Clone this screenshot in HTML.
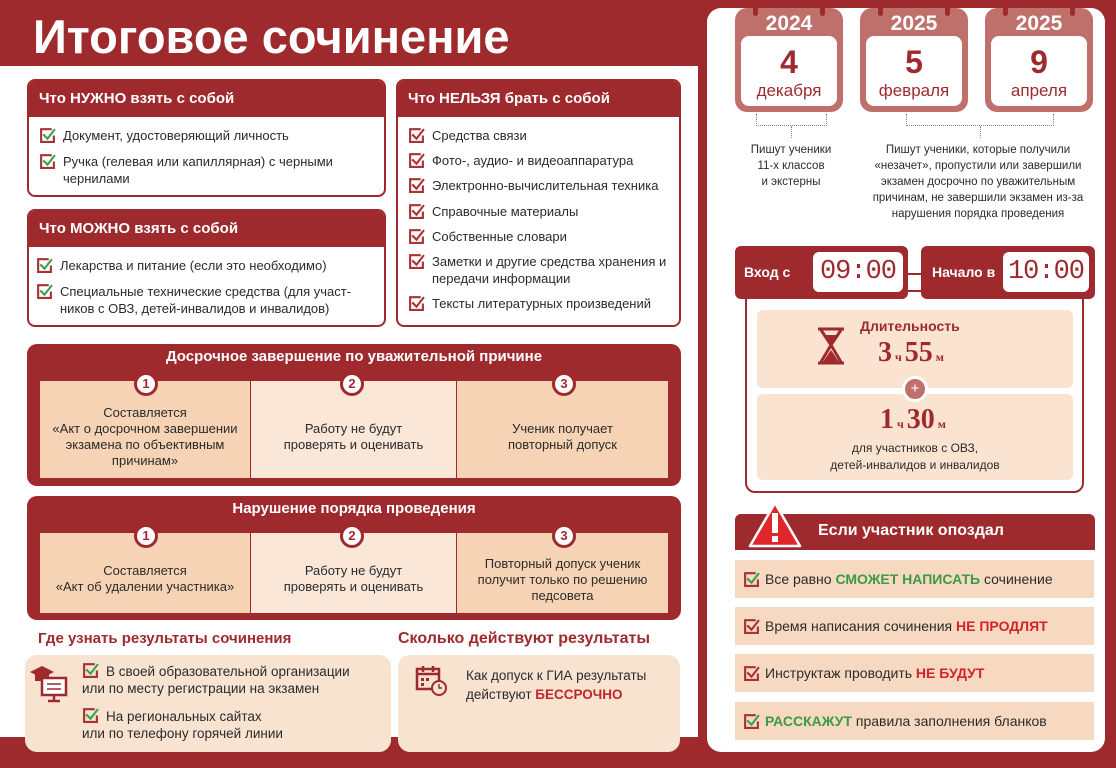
<!DOCTYPE html>
<html><head><meta charset="utf-8"><style>
*{margin:0;padding:0;box-sizing:border-box}
body{width:1116px;height:768px;position:relative;overflow:hidden;background:#fff;font-family:"Liberation Sans","DejaVu Sans",sans-serif;color:#2b2b2b}
.a{position:absolute}
.R{background:#9f2a2e}
.box{position:absolute;border:2px solid #9f2a2e;border-radius:8px;background:#fff;overflow:hidden}
.hd{background:#9f2a2e;color:#fff;font-weight:bold;font-size:15px;padding:0 0 0 10px;height:36px;line-height:36px}
.it{position:absolute;font-size:13px;line-height:17px;padding-left:24px}
.it svg{position:absolute;left:0;top:0}
.sec{position:absolute;background:#9f2a2e;border-radius:10px}
.sec .t{color:#fff;font-weight:bold;font-size:15px;text-align:center;margin-top:4px}
.cell{position:absolute;font-size:13px;line-height:16px;text-align:center;display:flex;align-items:center;justify-content:center}
.num{position:absolute;width:24px;height:24px;border-radius:50%;background:#fff;border:3px solid #9f2a2e;color:#9f2a2e;font-weight:bold;font-size:13px;text-align:center;line-height:18px}
.cal{position:absolute;width:108px;height:104px;background:#c0706a;border-radius:12px}
.cal .y{color:#fff;font-weight:bold;font-size:21px;text-align:center;line-height:32px}
.cal .w{position:absolute;left:6px;right:6px;top:28px;bottom:6px;background:#fff;border-radius:8px;text-align:center}
.cal .d{color:#9f2a2e;font-weight:bold;font-size:32px;line-height:40px;margin-top:6px}
.cal .m{color:#9f2a2e;font-size:17px;line-height:18px}
.ring{position:absolute;top:-6px;width:5px;height:14px;background:#9f2a2e;border-radius:3px}
.late{position:absolute;left:735px;width:359px;height:38px;background:#f6d9c0;font-size:14px;line-height:38px;padding-left:30px}
.late svg{position:absolute;left:8px;top:11px}
.g{color:#3a9a45;font-weight:bold}.r{color:#d2232a;font-weight:bold}
.dig{position:absolute;background:#fff;border-radius:6px;color:#9f2a2e;font-family:"Liberation Mono",monospace;font-size:27px;line-height:40px;text-align:center;letter-spacing:-1px}
</style></head><body>
<svg width="0" height="0" style="position:absolute"><defs>
<symbol id="cg" viewBox="0 0 16 16"><path d="M12 2H2v12h12V8" fill="none" stroke="#a83236" stroke-width="2"/><path d="M4 7l4 4 7-9" fill="none" stroke="#3aa34a" stroke-width="2"/></symbol>
<symbol id="cr" viewBox="0 0 16 16"><path d="M12 2H2v12h12V8" fill="none" stroke="#a83236" stroke-width="2"/><path d="M4 7l4 4 7-9" fill="none" stroke="#a83236" stroke-width="2"/></symbol>
</defs></svg>

<div class="a R" style="left:0;top:0;width:705px;height:66px"></div>
<div class="a" style="left:33px;top:8px;color:#fff;font-weight:bold;font-size:47px;line-height:58px">Итоговое сочинение</div>
<div class="a R" style="left:698px;top:0;width:418px;height:768px"></div>
<div class="a" style="left:707px;top:8px;width:398px;height:744px;background:#fff;border-radius:14px"></div>
<div class="a R" style="left:0;top:737px;width:705px;height:31px"></div>

<div class="box" style="left:27px;top:79px;width:359px;height:118px"><div class="hd">Что НУЖНО взять с собой</div></div>
<div class="it" style="left:39px;top:127px"><svg width="17" height="17"><use href="#cg"/></svg>Документ, удостоверяющий личность</div>
<div class="it" style="left:39px;top:153px;width:330px"><svg width="17" height="17"><use href="#cg"/></svg>Ручка (гелевая или капиллярная) с черными чернилами</div>
<div class="box" style="left:27px;top:209px;width:359px;height:118px"><div class="hd">Что МОЖНО взять с собой</div></div>
<div class="it" style="left:36px;top:257px"><svg width="17" height="17"><use href="#cg"/></svg>Лекарства и питание (если это необходимо)</div>
<div class="it" style="left:36px;top:283px;width:335px"><svg width="17" height="17"><use href="#cg"/></svg>Специальные технические средства (для участ-ников с ОВЗ, детей-инвалидов и инвалидов)</div>
<div class="box" style="left:396px;top:79px;width:285px;height:248px"><div class="hd">Что НЕЛЬЗЯ брать с собой</div></div>
<div class="it" style="left:408px;top:127px"><svg width="17" height="17"><use href="#cr"/></svg>Средства связи</div>
<div class="it" style="left:408px;top:152px"><svg width="17" height="17"><use href="#cr"/></svg>Фото-, аудио- и видеоаппаратура</div>
<div class="it" style="left:408px;top:177px"><svg width="17" height="17"><use href="#cr"/></svg>Электронно-вычислительная техника</div>
<div class="it" style="left:408px;top:203px"><svg width="17" height="17"><use href="#cr"/></svg>Справочные материалы</div>
<div class="it" style="left:408px;top:228px"><svg width="17" height="17"><use href="#cr"/></svg>Собственные словари</div>
<div class="it" style="left:408px;top:253px;width:270px"><svg width="17" height="17"><use href="#cr"/></svg>Заметки и другие средства хранения и передачи информации</div>
<div class="it" style="left:408px;top:295px"><svg width="17" height="17"><use href="#cr"/></svg>Тексты литературных произведений</div>

<div class="sec" style="left:27px;top:344px;width:654px;height:142px"><div class="t">Досрочное завершение по уважительной причине</div></div>
<div class="cell" style="left:40px;top:381px;width:210px;height:97px;background:#f6d3b4;padding-top:14px">Составляется<br>«Акт о досрочном завершении экзамена по объективным причинам»</div>
<div class="cell" style="left:251px;top:381px;width:205px;height:97px;background:#fae7d8;padding-top:14px">Работу не будут<br>проверять и оценивать</div>
<div class="cell" style="left:457px;top:381px;width:211px;height:97px;background:#f6d3b4;padding-top:14px">Ученик получает<br>повторный допуск</div>
<div class="num" style="left:134px;top:372px">1</div>
<div class="num" style="left:340px;top:372px">2</div>
<div class="num" style="left:552px;top:372px">3</div>
<div class="sec" style="left:27px;top:496px;width:654px;height:124px"><div class="t">Нарушение порядка проведения</div></div>
<div class="cell" style="left:40px;top:533px;width:210px;height:80px;background:#f6d3b4;padding-top:12px">Составляется<br>«Акт об удалении участника»</div>
<div class="cell" style="left:251px;top:533px;width:205px;height:80px;background:#fae7d8;padding-top:12px">Работу не будут<br>проверять и оценивать</div>
<div class="cell" style="left:457px;top:533px;width:211px;height:80px;background:#f6d3b4;padding:14px 14px 0">Повторный допуск ученик получит только по решению педсовета</div>
<div class="num" style="left:134px;top:524px">1</div>
<div class="num" style="left:340px;top:524px">2</div>
<div class="num" style="left:552px;top:524px">3</div>

<div class="a" style="left:38px;top:630px;color:#9f2a2e;font-weight:bold;font-size:15px">Где узнать результаты сочинения</div>
<div class="a" style="left:398px;top:630px;color:#9f2a2e;font-weight:bold;font-size:16px">Сколько действуют результаты</div>
<div class="a" style="left:25px;top:655px;width:366px;height:97px;background:#f8e3d1;border-radius:12px"></div>
<div class="a" style="left:398px;top:655px;width:282px;height:97px;background:#f8e3d1;border-radius:12px"></div>
<svg class="a" style="left:28px;top:662px" width="44" height="42"><path d="M2 10l12-6 12 6-12 6z" fill="#9f2a2e"/><rect x="7" y="12" width="14" height="7" fill="#9f2a2e"/><rect x="14" y="16" width="24" height="17" fill="#fff" stroke="#9f2a2e" stroke-width="2.5"/><path d="M19 22h14M19 27h14" stroke="#9f2a2e" stroke-width="1.5"/><path d="M26 33v5M20 39h12" stroke="#9f2a2e" stroke-width="2.5"/></svg>
<div class="it" style="left:82px;top:662px;width:300px;font-size:13.5px;line-height:19px"><svg width="17" height="17"><use href="#cg"/></svg>В своей образовательной организации</div>
<div class="a" style="left:82px;top:681px;font-size:13.5px">или по месту регистрации на экзамен</div>
<div class="it" style="left:82px;top:707px;font-size:13.5px;line-height:19px"><svg width="17" height="17"><use href="#cg"/></svg>На региональных сайтах</div>
<div class="a" style="left:82px;top:726px;font-size:13.5px">или по телефону горячей линии</div>
<svg class="a" style="left:414px;top:664px" width="36" height="34"><rect x="3" y="5" width="22" height="20" fill="none" stroke="#9f2a2e" stroke-width="2.5"/><path d="M3 10h22M9 2v6M19 2v6" stroke="#9f2a2e" stroke-width="2.5"/><path d="M7 14h3v3H7zM12 14h3v3h-3zM7 19h3v3H7z" fill="#9f2a2e"/><circle cx="25" cy="24" r="7" fill="#f8e3d1" stroke="#9f2a2e" stroke-width="2"/><path d="M25 20v4h3" stroke="#9f2a2e" stroke-width="1.5" fill="none"/></svg>
<div class="a" style="left:466px;top:666px;font-size:13.5px;line-height:19px">Как допуск к ГИА результаты<br>действуют <b style="color:#c0262b">БЕССРОЧНО</b></div>

<div class="cal" style="left:735px;top:8px"><div class="ring" style="left:18px"></div><div class="ring" style="left:85px"></div><div class="y">2024</div><div class="w"><div class="d">4</div><div class="m">декабря</div></div></div>
<div class="cal" style="left:860px;top:8px"><div class="ring" style="left:18px"></div><div class="ring" style="left:85px"></div><div class="y">2025</div><div class="w"><div class="d">5</div><div class="m">февраля</div></div></div>
<div class="cal" style="left:985px;top:8px"><div class="ring" style="left:18px"></div><div class="ring" style="left:85px"></div><div class="y">2025</div><div class="w"><div class="d">9</div><div class="m">апреля</div></div></div>
<div class="a" style="left:756px;top:114px;width:71px;height:12px;border:1px dotted #888;border-top:none"></div>
<div class="a" style="left:791px;top:126px;height:12px;border-left:1px dotted #888"></div>
<div class="a" style="left:906px;top:114px;width:148px;height:12px;border:1px dotted #888;border-top:none"></div>
<div class="a" style="left:980px;top:126px;height:12px;border-left:1px dotted #888"></div>
<div class="a" style="left:735px;top:142px;width:112px;text-align:center;font-size:11.5px;line-height:16px">Пишут ученики<br>11-х классов<br>и экстерны</div>
<div class="a" style="left:860px;top:142px;width:236px;text-align:center;font-size:11.5px;line-height:16px">Пишут ученики, которые получили «незачет», пропустили или завершили экзамен досрочно по уважительным причинам, не завершили экзамен из-за нарушения порядка проведения</div>

<div class="a" style="left:745px;top:290px;width:339px;height:203px;border:2px solid #9f2a2e;border-radius:10px"></div>
<div class="a R" style="left:735px;top:246px;width:173px;height:53px;border-radius:6px"></div>
<div class="a R" style="left:921px;top:246px;width:174px;height:53px;border-radius:6px"></div>
<div class="a R" style="left:905px;top:273px;width:18px;height:2px"></div>
<div class="a" style="left:744px;top:264px;color:#fff;font-weight:bold;font-size:14px">Вход с</div>
<div class="dig" style="left:813px;top:252px;width:90px">09:00</div>
<div class="a" style="left:932px;top:264px;color:#fff;font-weight:bold;font-size:14px">Начало в</div>
<div class="dig" style="left:1003px;top:252px;width:86px">10:00</div>
<div class="a" style="left:757px;top:310px;width:316px;height:78px;background:#fae3d1;border-radius:6px"></div>
<div class="a" style="left:757px;top:394px;width:316px;height:86px;background:#fae3d1;border-radius:6px"></div>
<svg class="a" style="left:815px;top:327px" width="34" height="38"><path d="M3 2h26M3 36h26M6 3l10 15L6 35M26 3L16 18l10 17" fill="none" stroke="#9f2a2e" stroke-width="3"/><path d="M16 23l8 12H8z" fill="#9f2a2e"/><path d="M10 8h12l-6 8z" fill="#9f2a2e"/></svg>
<div class="a" style="left:860px;top:318px;color:#9f2a2e;font-weight:bold;font-size:14px">Длительность</div>
<div class="a" style="left:878px;top:337px;color:#9f2a2e;font-weight:bold;font-family:'Liberation Serif',serif;font-size:28px">3<span style="font-size:12px"> ч </span>55<span style="font-size:12px"> м</span></div>
<div class="a" style="left:902px;top:376px;width:26px;height:26px;border-radius:50%;background:#c0706a;border:3px solid #fff;color:#fff;text-align:center;line-height:19px;font-size:15px">+</div>
<div class="a" style="left:880px;top:404px;color:#9f2a2e;font-weight:bold;font-family:'Liberation Serif',serif;font-size:28px">1<span style="font-size:12px"> ч </span>30<span style="font-size:12px"> м</span></div>
<div class="a" style="left:757px;top:440px;width:316px;text-align:center;font-size:12px;line-height:17px">для участников с ОВЗ,<br>детей-инвалидов и инвалидов</div>

<div class="a R" style="left:735px;top:514px;width:360px;height:36px;border-radius:6px 6px 0 0"></div>
<svg class="a" style="left:747px;top:500px" width="56" height="50"><path d="M28 3L53 46H3z" fill="#e0262b" stroke="#fff" stroke-width="2.5" stroke-linejoin="round"/><rect x="25" y="13" width="6" height="20" fill="#fff"/><rect x="25" y="36" width="6" height="6" fill="#fff"/></svg>
<div class="a" style="left:818px;top:522px;color:#fff;font-weight:bold;font-size:16px">Если участник опоздал</div>
<div class="late" style="top:560px"><svg width="17" height="17"><use href="#cg"/></svg>Все равно <span class="g">СМОЖЕТ НАПИСАТЬ</span> сочинение</div>
<div class="late" style="top:607px"><svg width="17" height="17"><use href="#cr"/></svg>Время написания сочинения <span class="r">НЕ ПРОДЛЯТ</span></div>
<div class="late" style="top:654px"><svg width="17" height="17"><use href="#cr"/></svg>Инструктаж проводить <span class="r">НЕ БУДУТ</span></div>
<div class="late" style="top:702px"><svg width="17" height="17"><use href="#cg"/></svg><span class="g">РАССКАЖУТ</span> правила заполнения бланков</div>
</body></html>
